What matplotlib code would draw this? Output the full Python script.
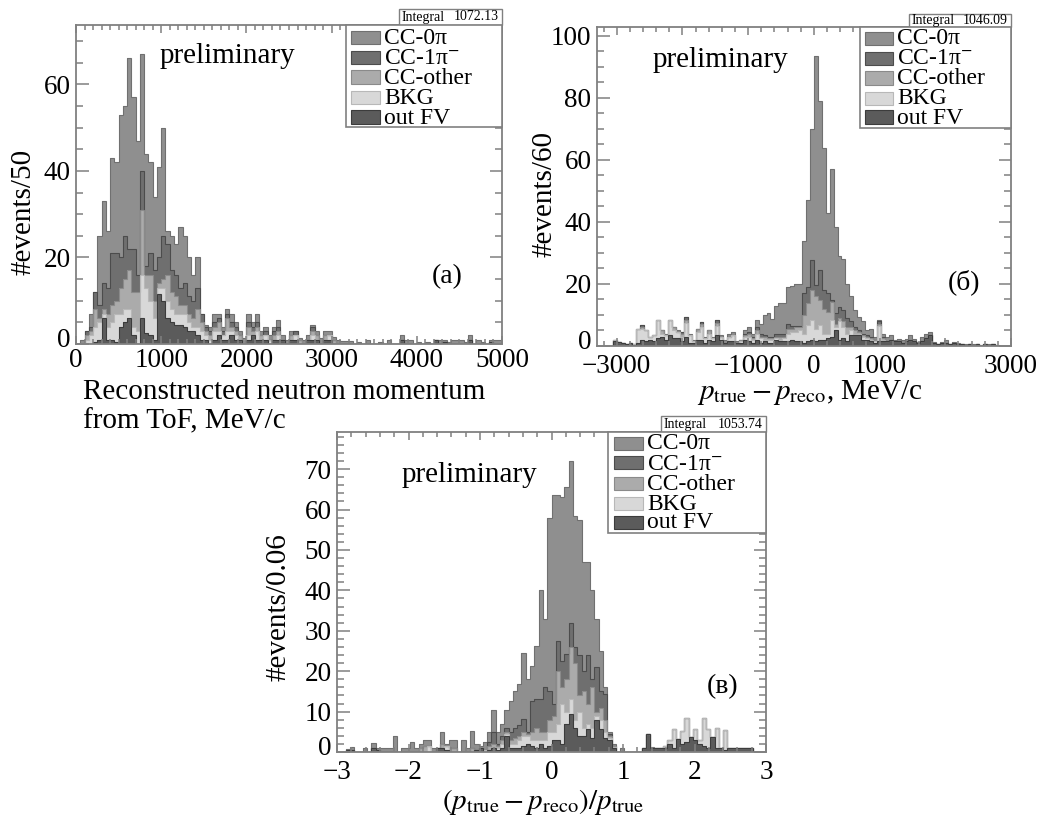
import numpy as np
import matplotlib
matplotlib.use("Agg")
import matplotlib.pyplot as plt
from matplotlib.patches import Rectangle
from matplotlib.ticker import MultipleLocator
from matplotlib.transforms import ScaledTranslation

plt.rcParams['font.family'] = ['Liberation Serif', 'DejaVu Serif']
plt.rcParams['mathtext.fontset'] = 'stix'

# ---------------- data (counts per bin) ----------------
categories = ['CC-0π', 'CC-1π$^{-}$', 'CC-other', 'BKG', 'out FV']

# Panel (a): reconstructed neutron momentum, 0..5000 MeV/c, 100 bins of 50
a_range = (0, 5000)
a_nbins = 100
a_outfv = [
    0, 0, 0, 0, 0.5, 1, 6, 1, 1, 0.5,
    4, 5, 6, 2, 0, 6, 2.5, 2, 1, 11.5,
    10, 6, 5, 4.5, 4.5, 4, 3, 3, 2, 1,
    1, 0, 1, 2, 1, 1, 2, 1, 1, 0,
    1, 2, 1, 1, 1, 0, 1, 1, 1, 0,
    1, 1, 0, 0, 1, 1, 1, 0, 1, 1,
    0, 0, 0, 0, 0, 0, 0, 0, 0, 0,
    0, 0, 0, 0, 0, 0, 1, 0, 0, 0,
    0, 0, 0, 0, 1, 0, 0.5, 0, 0, 0,
    0, 0, 1, 0, 0, 0, 0, 0.5, 0, 0]
a_bkg = [
    0, 0, 1, 2, 3.5, 4, 1, 3, 4, 6.5,
    3, 3, 2, 2, 3, 10, 10.5, 8, 5, 1.5,
    3, 4, 3, 2.5, 2.5, 3, 2, 1, 2, 2,
    1, 1, 2, 1, 1, 2, 1, 1, 0, 0,
    1, 0, 2, 0, 1, 1, 0, 1, 0, 0,
    0, 1, 0, 0, 0, 1, 0, 0, 0, 1,
    0, 0, 0, 0, 0, 0, 0, 0, 0, 0,
    0, 0, 0, 0, 0, 0, 0, 0, 0, 0,
    0, 0, 0, 0, 0, 0, 0, 0, 0, 0,
    0, 0, 0, 0, 0, 0, 0, 0, 0, 0]
a_other = [
    0, 0, 1, 1, 4, 1, 1, 3, 4, 3,
    6, 7, 9, 8, 9, 15, 3, 6, 4, 1,
    2, 6, 4, 4, 2, 2, 2, 2, 4, 2,
    1, 1, 1, 2, 0, 3, 1, 1, 1, 0.5,
    2, 1, 1, 1, 0, 0, 1, 1, 0, 0,
    1, 0, 1, 0, 0, 1, 1, 0, 1, 0,
    1, 0, 0, 0, 0, 0, 0, 0, 0, 0,
    0, 0, 0, 0, 0, 0, 0, 0, 0, 0,
    0, 0, 0, 0, 0, 0, 0, 0, 0, 0,
    0, 0, 0, 0, 0, 0, 0, 0, 0, 0]
a_cc1pi = [
    0, 0, 1, 1, 4, 3, 6, 6, 12, 11,
    7, 10, 5, 10, 4, 9, 2, 5, 7, 6,
    10, 7, 5, 5, 4, 5, 4, 4, 5, 2,
    1, 1, 1, 1, 1, 1, 1, 1, 0, 0,
    1, 1, 1, 0, 1, 0, 1, 1, 0, 0,
    0, 1, 0, 0, 0, 1, 0, 0, 0, 0,
    0, 0, 0, 0, 0, 0, 0, 0, 0, 0,
    0, 0, 0, 0, 0, 0, 0, 0, 0, 0,
    0, 0, 0, 0, 0, 0, 0, 0, 0, 0,
    0, 0, 0, 0, 0, 0, 0, 0, 0, 0]
a_cc0pi = [
    0, 1, 0, 3, 0, 16, 19, 13, 22, 21,
    33, 30, 44, 35, 31, 27, 26, 21, 17, 21,
    25, 3, 8, 7, 14, 11, 9, 6, 7, 0,
    0.5, 1, 2, 1, 1, 1, 2, 1, 1, 1,
    2, 1, 2, 1, 1, 1, 1, 1.5, 1, 1,
    1, 0, 0.5, 1, 1, 0.5, 1, 1.5, 1, 1,
    0.7, 1, 0.7, 0.7, 0.7, 0, 0.5, 0, 1, 0,
    0, 0.5, 0, 1, 0, 0, 1, 1, 1, 0,
    0.5, 0, 0.5, 0, 0, 1, 0.5, 0.5, 1, 1,
    1, 0.5, 1, 0, 1, 0.5, 0, 0.5, 1, 1]

# Panel (b): p_true - p_reco, -3300..3000 MeV/c, 105 bins of 60
b_range = (-3300, 3000)
b_nbins = 105
b_outfv = [
    0, 0, 0, 0, 1.5, 1.3, 1, 0.5, 1, 0.3,
    1, 2, 1.5, 2, 1.5, 2.5, 3, 2, 3.5, 2.5,
    2.5, 1.5, 3, 1, 1, 2, 2, 1, 2, 1.5,
    3.5, 2, 1, 1.5, 1.5, 1, 1, 2, 1.5, 1,
    2, 1, 1.5, 1, 1, 2, 1.5, 1.5, 1.5, 2,
    1.5, 1.5, 1, 1.5, 2, 1.5, 2, 2, 2.5, 3,
    5, 2, 2.5, 1.5, 3.5, 3.5, 3.5, 2, 2, 1.5,
    1, 1.5, 1.5, 1.5, 2, 1.5, 1.5, 1, 1.5, 2,
    1.5, 1, 1.5, 2.5, 3.5, 1, 0.7, 1, 1, 0.5,
    1, 0.5, 0.7, 0, 0.7, 0, 0.7, 0, 0.7, 0,
    0.5, 0, 0, 0, 0]
b_bkg = [
    0, 0, 0, 0, 0.3, 0, 0, 0, 0, 0.2,
    4.4, 3.5, 3.5, 1, 2, 6, 1, 1.5, 5, 2.5,
    2, 1.5, 4.5, 2.5, 0.5, 2.5, 4, 1.5, 2, 1,
    3, 1, 0, 1.5, 2, 0, 0.5, 1, 1.5, 1,
    2, 1.5, 0.5, 1, 1, 0.5, 0.5, 1, 2.5, 2.5,
    3, 3.5, 3, 5.2, 6.3, 4.1, 4.7, 2, 1.5, 5.3,
    1, 6, 3.5, 2.5, 1.5, 0.5, 0.5, 1, 0.5, 0.5,
    0.5, 5, 0.5, 0, 0, 0, 0, 0, 0, 0,
    0, 0, 0, 0, 0, 0, 0, 0, 0, 0,
    0, 0, 0, 0, 0, 0, 0, 0, 0, 0,
    0, 0, 0, 0, 0]
b_other = [
    0, 0, 0, 0, 0, 0, 0, 0, 0, 0,
    0, 0.5, 0, 0, 0, 0, 1, 0, 0, 1,
    0, 1, 1, 0, 0, 1.1, 1, 0, 1, 0,
    1, 0, 0, 0, 0, 0, 0.5, 0.5, 1, 0.5,
    1, 0.5, 1, 0.5, 0.5, 0.5, 1, 0.5, 1.5, 1,
    1.5, 1, 6, 7.3, 9.7, 10.4, 8.1, 8, 7, 5.9,
    1, 1, 2, 2, 1, 1, 0.5, 0.5, 0.5, 0.5,
    0.5, 0.5, 0.5, 0, 0, 0, 0, 0, 0, 0,
    0, 0, 0, 0, 0, 0, 0, 0, 0, 0,
    0, 0, 0, 0, 0, 0, 0, 0, 0, 0,
    0, 0, 0, 0, 0]
b_cc1pi = [
    0, 0, 0, 0, 0, 0, 0, 0, 0, 0,
    0, 0.7, 0, 0, 0, 0, 0, 0, 0, 0,
    0, 0.5, 0.9, 0, 0, 0, 0.8, 0, 0, 0,
    0.8, 0, 0, 0, 0, 0, 0, 0.5, 0.5, 0.5,
    1, 1, 0.5, 0.5, 0.5, 1, 1, 1, 1.5, 1,
    0.5, 0.5, 7, 5, 9.7, 3.6, 9.7, 6, 6, 0.6,
    3.5, 3.6, 3.5, 3, 2, 1, 0.5, 0.5, 0.5, 0.5,
    0, 1, 0.5, 0, 0, 0, 0, 0, 0, 0,
    0, 0, 0, 0, 0, 0, 0, 0, 0, 0,
    0, 0, 0, 0, 0, 0, 0, 0, 0, 0,
    0, 0, 0, 0, 0]
b_cc0pi = [
    0, 0, 0, 0, 0, 0, 0, 0, 0, 0,
    0, 0, 0, 0, 0, 0, 0, 0.5, 0, 0,
    0.5, 0, 0, 0.5, 0.5, 0, 0, 0.5, 0, 0.5,
    0, 0.5, 1, 1, 1, 0.5, 0, 1, 1.5, 1,
    2.5, 3, 6.5, 7.5, 5.8, 8.8, 10, 10, 12, 13,
    13.5, 13.5, 17, 28, 42.3, 73.9, 54.5, 46, 26, 42.2,
    28, 16.4, 16.5, 11, 8, 5.5, 4.4, 4, 1.5, 2.6,
    1, 0.3, 1, 1.5, 1.5, 0.5, 0.9, 0.8, 0.9, 1.5,
    0.9, 0.3, 1.5, 1.5, 1, 0.3, 0, 0.3, 0.8, 0.2,
    0.3, 0.5, 0, 0.7, 0, 0.5, 0, 0.3, 0, 0.5,
    0, 0.3, 0, 0, 0]

# Panel (c): (p_true - p_reco)/p_true, -3..3, 100 bins of 0.06
c_range = (-3, 3)
c_nbins = 100
c_outfv = [
    0, 0, 0.5, 0.5, 0, 0, 0, 0, 1, 0.5,
    0, 0, 0, 0, 0, 0, 0, 0, 0, 0,
    0, 0, 0, 1, 1, 0.5, 0, 0, 0, 0,
    0, 0, 0.5, 1, 0, 0.5, 1, 0.5, 1, 4,
    1, 1, 1, 1.5, 2, 1.5, 1, 2, 1, 1.5,
    3, 3, 2, 7, 9.5, 6, 4, 4, 5.75, 3.5,
    7.8, 5.75, 3.5, 3, 1, 0, 0, 0, 0, 0,
    0, 1, 4.4, 1, 1, 1, 1, 2, 1, 3.3,
    2, 2.5, 3.7, 3, 2, 1.5, 1, 3.7, 1, 1,
    0.5, 1, 1, 1, 1, 1, 1, 0, 0, 0]
c_bkg = [
    0, 0, 0, 0, 0, 0, 0, 0, 0, 0,
    0, 0, 0, 0, 0, 0, 0, 0, 0, 0,
    0, 1.5, 0, 0, 0, 1, 0, 0, 0, 0,
    0, 0, 0, 0, 0.5, 0, 0, 0.5, 1, 0.5,
    1, 1, 2, 2.5, 2, 1.5, 2, 1, 2, 3.5,
    2, 4, 10, 3, 3.5, 2, 6, 2, 1.25, 2.5,
    1.2, 2.25, 1.5, 0.5, 0.2, 0, 0, 0, 0, 0,
    0, 0, 0, 0, 0, 0, 0.5, 0.9, 4.75, 0,
    3.3, 6, 0, 2.75, 1, 7, 4.75, 0, 5, 0,
    5, 0, 0, 0, 0, 0, 0, 0, 0, 0]
c_other = [
    0, 0, 0, 0, 0, 0, 0, 0, 0, 0,
    0, 0, 0, 0, 0, 0, 0, 0, 0, 1,
    1.5, 0, 0, 0, 1, 0, 1, 1, 0, 0,
    0, 1, 0, 0, 0, 1, 1, 0.5, 1, 0.5,
    1, 1.5, 1, 1, 0.5, 2, 3, 2, 2, 3,
    4, 13, 4, 8, 13, 14, 4, 9, 5, 10,
    1, 3, 3, 0.5, 0.3, 0, 0, 0, 0, 0,
    0, 0, 0, 0, 0, 0, 0, 0, 0, 0,
    0, 0, 0, 0, 0, 0, 0, 0, 0, 0,
    0, 0, 0, 0, 0, 0, 0, 0, 0, 0]
c_cc1pi = [
    0, 0, 0, 0, 0, 0, 0, 0, 0, 0,
    0, 0, 0, 0, 0, 0, 0, 0, 0, 0,
    0, 0, 0, 0, 0, 0, 0, 0, 0, 0,
    0, 0, 0, 0, 0, 1, 3, 0.5, 1, 1,
    2, 2.5, 2.6, 3.2, 0.5, 7.7, 7, 8, 11, 7,
    3, 7.5, 6.6, 6.2, 6, 4, 10, 5, 12, 2,
    11, 4, 6.4, 0.5, 0, 0, 0, 0, 0, 0,
    0, 0, 0, 0, 0, 0, 0, 0, 0, 0,
    0, 0, 0, 0, 0, 0, 0, 0, 0, 0,
    0, 0, 0, 0, 0, 0, 0, 0, 0, 0]
c_cc0pi = [
    0, 0, 0.3, 0.7, 0, 0, 1, 0, 1.2, 0.5,
    1, 1, 1, 4, 0, 1, 1, 2.5, 1, 1,
    1.4, 1.4, 1, 0, 3, 0.5, 1.9, 2, 0, 3,
    1, 4.3, 1.5, 0.6, 2, 2.5, 5.5, 3, 3, 4.3,
    7.7, 9, 10.2, 16.3, 13, 8.7, 13.3, 27, 17, 43,
    51.5, 36, 40.4, 41.5, 40, 32.5, 33.5, 27, 23, 22,
    12, 10, 1.6, 0.5, 0.5, 0, 1, 0, 0, 0,
    0, 0, 0, 0.2, 0, 0, 0, 0, 0, 0,
    0, 0, 0, 0, 0, 0, 0, 0, 0, 0,
    0, 0, 0, 0, 0, 0, 0, 0, 0, 0]

integrals = ['1072.13', '1046.09', '1053.74']
panel_tags = ['(a)', '(б)', '(в)']
y_titles = ['#events/50', '#events/60', '#events/0.06']

# ---------------- figure ----------------
W, H = 1060, 819
fig = plt.figure(figsize=(W / 100, H / 100), dpi=100)

FILL = {'out': '#5b5b5b', 'bkg': '#d8d8d8', 'oth': '#ababab', 'pi1': '#6f6f6f', 'pi0': '#8f8f8f'}
EDGE = {'out': '#3c3c3c', 'bkg': '#b8b8b8', 'oth': '#8a8a8a', 'pi1': '#4c4c4c', 'pi0': '#707070'}
LEG_KEYS = ['pi0', 'pi1', 'oth', 'bkg', 'out']
FRAME = '#808080'


def fig_rect(l, t, r, b, **kw):
    rect = Rectangle((l / W, 1 - b / H), (r - l) / W, (b - t) / H,
                     transform=fig.transFigure, **kw)
    fig.add_artist(rect)
    return rect


def ftext(x, y, s, **kw):
    return fig.text(x / W, 1 - y / H, s, **kw)


def panel(box, rng, nb, comps, ylim, xticks, xlabels, xminor, yticks, yminor, xpad):
    l, t, r, b = box
    ax = fig.add_axes([l / W, 1 - b / H, (r - l) / W, (b - t) / H])
    edges = np.linspace(rng[0], rng[1], nb + 1)
    run = np.zeros(nb)
    tops = []
    for key, vals in comps:
        run = run + np.asarray(vals, dtype=float)
        tops.append((key, run.copy()))
    for key, top in reversed(tops):
        ax.stairs(top, edges, baseline=0, fill=True, color=FILL[key], lw=0, zorder=1)
        ax.stairs(top, edges, baseline=None, color=EDGE[key], lw=0.8, zorder=1.5)
    ax.set_xlim(rng)
    ax.set_ylim(ylim)
    ax.set_xticks(xticks, labels=xlabels)
    ax.set_yticks(yticks)
    ax.xaxis.set_minor_locator(MultipleLocator(xminor))
    ax.yaxis.set_minor_locator(MultipleLocator(yminor))
    for s in ax.spines.values():
        s.set_color(FRAME)
        s.set_linewidth(1.3)
    ax.tick_params(which='both', direction='in', top=True, right=True,
                   color=FRAME, width=1.1, labelsize=19.5)
    ax.tick_params(axis='x', which='major', length=6, pad=xpad)
    ax.tick_params(axis='x', which='minor', length=3.5)
    ax.tick_params(axis='y', which='major', length=9, pad=4)
    ax.tick_params(axis='y', which='minor', length=5)
    # nudge the bottom "0" label of the y axis up a little (as in the original)
    lab0 = ax.yaxis.get_major_ticks()[0].label1
    lab0.set_transform(lab0.get_transform() + ScaledTranslation(0, 4.5 / 72, fig.dpi_scale_trans))
    return ax


def legend(l, t, r, b, rows, sw_l, sw_r, tx):
    fig_rect(l, t, r, b, facecolor='white', edgecolor=FRAME, lw=1.2, zorder=5)
    for key, lab, yc in zip(LEG_KEYS, categories, rows):
        fig_rect(sw_l, yc - 6.5, sw_r, yc + 6.5, facecolor=FILL[key],
                 edgecolor=EDGE[key], lw=0.8, zorder=6)
        ftext(tx, yc + 1, lab, fontsize=17, ha='left', va='center', zorder=7)


def statbox(l, t, r, b, val):
    fig_rect(l, t, r, b, facecolor='white', edgecolor=FRAME, lw=1.0, zorder=5)
    yc = (t + b) / 2
    ftext(l + 3, yc, 'Integral', fontsize=10, ha='left', va='center', zorder=7)
    ftext(r - 3, yc, val, fontsize=10, ha='right', va='center', zorder=7)


# Panel (a)
panel((76, 25, 502, 344), a_range, a_nbins,
      [('out', a_outfv), ('bkg', a_bkg), ('oth', a_other), ('pi1', a_cc1pi), ('pi0', a_cc0pi)],
      (0, 73.7), [0, 1000, 2000, 3000, 4000, 5000],
      ['0', '1000', '2000', '3000', '4000', '5000'], 100, [0, 20, 40, 60], 5, 3)
statbox(399, 9, 502, 25, integrals[0])
legend(346, 25, 502, 127, [37, 57, 77, 97, 117], 351, 380, 384)
ftext(160, 63, 'preliminary', fontsize=21, ha='left', va='baseline')
ftext(447, 277, panel_tags[0], fontsize=20, ha='center', va='center')
ftext(24, 212, y_titles[0], fontsize=21, rotation=90, ha='center', va='center')
ftext(83, 392, 'Reconstructed neutron momentum', fontsize=21, ha='left', va='center')
ftext(83, 421, 'from ToF, MeV/c', fontsize=21, ha='left', va='center')

# Panel (b)
panel((597, 27, 1011, 346), b_range, b_nbins,
      [('out', b_outfv), ('bkg', b_bkg), ('oth', b_other), ('pi1', b_cc1pi), ('pi0', b_cc0pi)],
      (0, 102.9), [-3000, -2000, -1000, 0, 1000, 2000, 3000],
      ['\u22123000', '', '\u22121000', '0', '1000', '', '3000'], 200,
      [0, 20, 40, 60, 80, 100], 5, 6)
statbox(909, 14, 1011, 27, integrals[1])
legend(860, 27, 1011, 128, [38, 58, 78, 98, 117], 865, 893, 897)
ftext(653, 67, 'preliminary', fontsize=21, ha='left', va='baseline')
ftext(964, 282, panel_tags[1], fontsize=20, ha='center', va='center')
ftext(544, 194, y_titles[1], fontsize=21, rotation=90, ha='center', va='center')
ftext(810, 392, r'$p_{\rm true} - p_{\rm reco}$, MeV/c', fontsize=21, ha='center', va='center')

# Panel (c)
panel((337, 432, 766, 752), c_range, c_nbins,
      [('out', c_outfv), ('bkg', c_bkg), ('oth', c_other), ('pi1', c_cc1pi), ('pi0', c_cc0pi)],
      (0, 79.2), [-3, -2, -1, 0, 1, 2, 3],
      ['\u22123', '\u22122', '\u22121', '0', '1', '2', '3'], 0.2,
      [0, 10, 20, 30, 40, 50, 60, 70], 2, 6)
statbox(661, 416, 766, 432, integrals[2])
legend(608, 432, 766, 533, [443, 463, 483, 503, 522], 614, 643, 647)
ftext(402, 482, 'preliminary', fontsize=21, ha='left', va='baseline')
ftext(723, 687, panel_tags[2], fontsize=20, ha='center', va='center')
ftext(279, 607, y_titles[2], fontsize=21, rotation=90, ha='center', va='center')
ftext(543, 802, r'$(p_{\rm true} - p_{\rm reco})/p_{\rm true}$', fontsize=21, ha='center', va='center')

fig.savefig('out.png', dpi=100)
